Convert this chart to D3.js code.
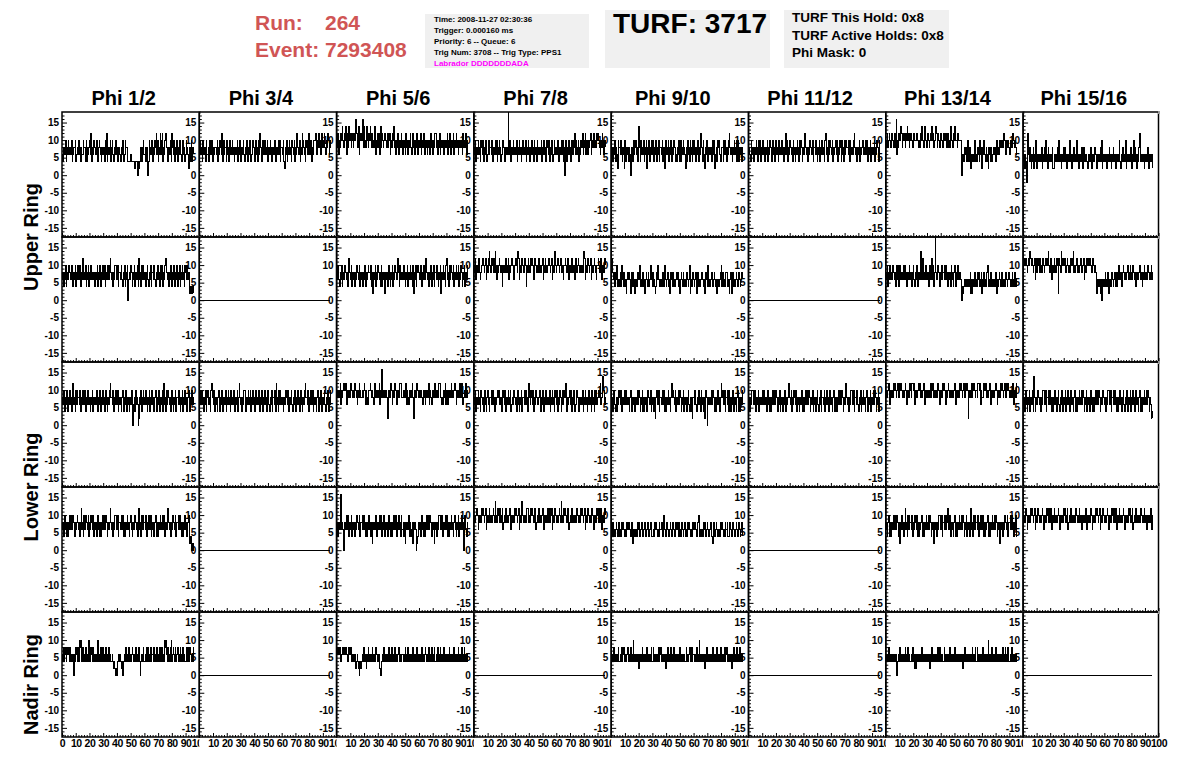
<!DOCTYPE html>
<html><head><meta charset="utf-8">
<script src="https://cdn.jsdelivr.net/npm/d3@7"></script>
<style>
body{margin:0;background:#fff}
svg{display:block}
text{font-family:"Liberation Sans",Arial,Helvetica,sans-serif;font-weight:bold}
</style>
</head><body>
<svg id="c" width="1196" height="772"></svg>
<script>
// ---------------- DATA ----------------
const phiLabels = ["Phi 1/2","Phi 3/4","Phi 5/6","Phi 7/8","Phi 9/10","Phi 11/12","Phi 13/14","Phi 15/16"];
const ringLabels = ["Upper Ring","Lower Ring","Nadir Ring"];
const yMajorTicks = [-15,-10,-5,0,5,10,15];
const xMajorTicks = [0,10,20,30,40,50,60,70,80,90,100];
const sampleStepNs = 0.5;
// each character is one sample: value = 2*digit - 2  ('0'=-2 ... '9'=16, 'a'=18)
const upperTop = [
 "435546354645 546345563454 645354465536 354564735465 546435654354 453647354563 564354645345 435465346554 333343333323 331323453564 453541364546 354657463547 647354675435 546375463546 354654356453 465424536354",
 "564536455364 453654635455 546354654736 455364536454 645354563546 354564354635 465345654364 536475436546 454635465354 546354564635 546325463546 453654635475 546354765436 564754653546 675465756475 567546576456",
 "567465768657 686475867567 576697658476 769586578657 687576586467 576485765676 657567465768 564657456576 465647564657 546756465745 657465574656 465647564657 756465746564 465657465746 567465756456 656475657465",
 "546354645365 463546534645 546354564635 465345654354 45a465354645 546354645346 454635465354 645364536454 546354645365 463546534645 546354564635 146354645365 465746546354 657465746546 567465765657 676546576465",
 "453546354265 546435426354 535414536465 645385364546 354625463546 463546354635 546354264546 354635465343 546436354654 253645364536 465354635475 536425465354 453646324536 564345536465 354675453546 546365354535",
 "454365453546 536465354645 354635465436 453564536454 645354746354 654536453546 536465354675 453546654635 546435463546 453674536465 546354564635 465364536465 546365454675 453546354564 546465354635 454635465436",
 "657567656765 675946576787 567657687657 676567667765 657687657866 576567686756 687576567665 767657576586 657687665766 661434354536 353524343634 354536452546 435432543534 454536454565 565676546565 456567656545",
 "342430374353 243524362434 343524353634 253434352243 443536342435 353424343634 243534363424 343525343432 434352434354 324343536243 434234353424 353432434363 243534362434 343524363534 243574343432 434352434342"
];
const upperBottom = [
 "453546354565 546435463546 456354745463 546354645453 354635463546 546354564675 453546654635 546435463546 145465354635 546374536465 453564354635 546435464536 465354675453 546435463546 354635465436 546452323232",
 "111111111111 111111111111 111111111111 111111111111 111111111111 111111111111 111111111111 111111111111 111111111111 111111111111 111111111111 111111111111 111111111111 111111111111 111111111111 111111111111",
 "546435463546 654536754635 453546654635 453546354565 546352546354 654536354525 453564354635 465457536454 546435463546 453625463565 546435464675 453546354635 546435462546 453674536465 546354654635 465354635464",
 "567465675456 676567465786 567657586465 676563656576 567465676546 676587465676 567636576567 676457656576 565674657656 676567465786 567656765646 676567465576 565476567656 656587456576 567465676546 676567456576",
 "575453546343 453645353424 545424535424 343546434353 424543534645 354323546434 343534643453 424543534345 453424543534 345434624345 434523534345 543424543634 345434543424 434563534345 543424523534 345434543454",
 "111111111111 111111111111 111111111111 111111111111 111111111111 111111111111 111111111111 111111111111 111111111111 111111111111 111111111111 111111111111 111111111111 111111111111 111111111111 111111111111",
 "546354645465 453564636454 546465345465 453564354635 546845745465 453564574635 a54565354645 546465354536 453564354645 541323434343 343524243534 354534352435 343565343534 434352434543 353434354345 434353435343",
 "567676567687 676567457567 576567656767 686567456576 576727658767 676567656576 678565676565 676567456576 676765676565 424343241434 354345243435 434543534645 453565454564 546545654535 454565453546 545465454645"
];
const lowerTop = [
 "546435463546 453674536465 546354654635 465453546354 546435463546 453564354675 546354654635 453564354635 543546214536 454125463564 546435463546 453564354635 546374536465 453564354635 546435463546 453564354645",
 "546465354635 654536754635 453564354635 546354645364 546435463575 453546653546 546354645364 546435463546 453564354635 546374536465 453546654635 546435463546 453564354675 546354654635 453564354635 546435463546",
 "565657465676 676465657765 657765465765 565676465456 676565476565 657465956565 652565676465 676465657765 565657465465 657525657765 565654565465 657465465657 565657765454 657465465657 565676465657 657545657565",
 "546354654365 453564356435 546465354565 654535654635 546456345465 453564354635 546465357546 546354654455 635465354645 546354645365 463546534645 657354564635 465345654354 546354645346 645364536464 565674568645",
 "453564353546 546354546465 453564354535 546465354635 354536654635 453525654635 546465353546 453575654635 546465354635 453564353525 546435464536 453525651454 546465353546 453575654635 546365354635 453564353546",
 "453546654635 546354546465 453564353546 546465354635 453546354575 546354654635 453546353546 546465354635 453564354635 546354645364 453564353546 546465354675 453546654635 546435463546 453564354635 546465354635",
 "565676465657 676567657676 565676465657 657767465567 676565676465 565657567656 565676465657 676465676565 565676465657 676567657676 265657567656 657767465567 676565676465 565676465657 676567657676 565657465657",
 "453564354635 546385354565 453546654635 546465353546 453564354635 546354645364 453564353546 546465354635 453564353546 546465354565 453546654635 546465353546 453564354635 546354645364 453564353546 546465354232"
];
const lowerBottom = [
 "453564353546 546465354565 453574536465 546354654635 453564353546 546465354575 453546654635 546465353546 453564354565 453574536465 546354654635 453564353546 546465354575 453546654635 546465353546 453564231212",
 "111111111111 111111111111 111111111111 111111111111 111111111111 111111111111 111111111111 111111111111 111111111111 111111111111 111111111111 111111111111 111111111111 111111111111 111111111111 111111111111",
 "453546945414 546465354635 453546654635 546465353546 453525454635 546465354635 453564353546 546354645364 453525454635 345254541235 453564353546 546465354525 453546654635 546465353546 453564354635 546451564354",
 "565676465657 676567456576 565676585657 657567456576 565676465657 676567456586 565657765657 676567456576 565676465657 657567456576 565676585657 676567456576 565657765657 676567456576 565676465657 657567456576",
 "453543454345 343545434354 545434523434 435453345434 453345434543 343545434354 453365434543 345434543454 453543454345 343545434354 545434563434 435454345434 453325434543 343545434354 453345434543 345434543453",
 "111111111111 111111111111 111111111111 111111111111 111111111111 111111111111 111111111111 111111111111 111111111111 111111111111 111111111111 111111111111 111111111111 111111111111 111111111111 111111111111",
 "453564353546 546465352546 453574536465 546354654635 354564353546 546465354525 453546654635 546465754635 453564353546 546465354635 453574536465 546354654635 354564353546 546465354525 453546654635 546465354635",
 "565676465657 676567456576 565676465657 657567456576 565676465657 676567456576 565657765657 565465657546 565676465657 676567456576 565676465657 657567456576 565676465657 676567456576 565657765657 565465657546"
];
const nadir = [
 "435354354453 534341435453 536563534353 435634543534 343563435353 534353435343 343232121343 432312343534 353434543435 534353134353 343535343534 435343534353 353436564353 435634543534 534353435343 353534543435",
 "111111111111 111111111111 111111111111 111111111111 111111111111 111111111111 111111111111 111111111111 111111111111 111111111111 111111111111 111111111111 111111111111 111111111111 111111111111 111111111111",
 "545454345454 545434545434 434323432132 343534324353 434353434543 343212343534 434353435343 353434543434 434353435343 343534343534 434353434543 435343534353 343534353434 534343435343 343534343534 435343534343",
 "111111111111 111111111111 111111111111 111111111111 111111111111 111111111111 111111111111 111111111111 111111111111 111111111111 111111111111 111111111111 111111111111 111111111111 111111111111 111111111111",
 "434353434353 343534543434 534353436343 343424343534 434353434353 353434343534 534343424353 343534353434 434353434343 353434543534 434353436343 343424353434 434353434353 343534343534 534343424353 343534353434",
 "111111111111 111111111111 111111111111 111111111111 111111111111 111111111111 111111111111 111111111111 111111111111 111111111111 111111111111 111111111111 111111111111 111111111111 111111111111 111111111111",
 "434353434343 434313435343 434353435343 343534242343 434353434343 343424353434 434353534343 353434343534 434353434343 343424353434 434343534353 353434343534 343436434353 434353434343 435343534353 343534343434",
 "111111111111 111111111111 111111111111 111111111111 111111111111 111111111111 111111111111 111111111111 111111111111 111111111111 111111111111 111111111111 111111111111 111111111111 111111111111 111111111111"
];
const rows = [upperTop, upperBottom, lowerTop, lowerBottom, nadir];

const infoLines = ["Time: 2008-11-27 02:30:36","Trigger: 0.000160 ms","Priority: 6 -- Queue: 6","Trig Num: 3708 -- Trig Type: PPS1"];
const labradorLine = "Labrador DDDDDDDADA";
const turfLines = ["TURF This Hold: 0x8","TURF Active Holds: 0x8","Phi Mask: 0"];

// ---------------- DRAW ----------------
const decode = s => Array.from(s.replace(/\s/g,"")).map((c,i)=>({t:i*sampleStepNs, v:2*parseInt(c,36)-2}));
const fmt = d => String(d);
const svg = d3.select("#c");
svg.append("rect").attr("width",1196).attr("height",772).attr("fill","#fff");

const frameLeft0 = 62, colW = 137.3, lastRight = 1158.5, top0 = 112, rowH = 125;
const colLeft = c => frameLeft0 + c*colW;
const colRight = c => c===7 ? lastRight : colLeft(c+1);
const yMinor = d3.range(-17,18,1);
const xMinor = d3.range(0,101,2);

const defs = svg.append("defs");

rows.forEach((row, r) => {
  row.forEach((str, c) => {
    const L = colLeft(c), R = colRight(c), T = top0 + r*rowH, B = T + rowH;
    const x = d3.scaleLinear().domain([0,100]).range([L,R]);
    const y = d3.scaleLinear().domain([-17.6,18]).range([B,T]);
    const g = svg.append("g");
    const data = decode(str);
    g.append("path").datum(data)
      .attr("fill","none").attr("stroke","#000").attr("stroke-width",1)
      .attr("shape-rendering","crispEdges")
      .attr("d", d3.line().x(d=>x(d.t)).y(d=>y(d.v)).curve(d3.curveStepAfter));
    // frame
    g.append("rect").attr("x",L).attr("y",T).attr("width",R-L).attr("height",B-T)
      .attr("fill","none").attr("stroke","#000").attr("stroke-width",1.5);
    // y axis
    const ya = g.append("g").attr("transform",`translate(${L},0)`)
      .call(d3.axisLeft(y).tickValues(yMajorTicks).tickSizeInner(-5).tickSizeOuter(0).tickPadding(3).tickFormat(fmt));
    ya.select(".domain").remove();
    ya.selectAll("text").attr("font-size",10).attr("font-family",null).attr("fill","#000");
    ya.selectAll("line").attr("stroke","#000");
    const ym = g.append("g").attr("transform",`translate(${L},0)`)
      .call(d3.axisLeft(y).tickValues(yMinor.filter(v=>v%5!==0)).tickSizeInner(-2.5).tickSizeOuter(0).tickFormat(""));
    ym.select(".domain").remove();
    ym.selectAll("line").attr("stroke","#000");
    // x axis
    const xm = g.append("g").attr("transform",`translate(0,${B})`)
      .call(d3.axisBottom(x).tickValues(xMinor.filter(v=>v%10!==0)).tickSizeInner(-2).tickSizeOuter(0).tickFormat(""));
    xm.select(".domain").remove();
    xm.selectAll("line").attr("stroke","#000");
    const isBottom = r === rows.length-1;
    const xt = xMajorTicks.filter(v => c===0 || v!==0);
    const xa = g.append("g").attr("transform",`translate(0,${B})`)
      .call(d3.axisBottom(x).tickValues(xt).tickSizeInner(-4).tickSizeOuter(0).tickPadding(3)
        .tickFormat(isBottom ? fmt : ""));
    xa.select(".domain").remove();
    xa.selectAll("line").attr("stroke","#000");
    xa.selectAll("text").attr("font-size",10.5).attr("font-family",null).attr("fill","#000").attr("letter-spacing",-0.5);
    if (isBottom && c < 7) {
      const id = "clipx"+c;
      defs.append("clipPath").attr("id",id).append("rect")
        .attr("x",L-20).attr("y",-10).attr("width",R-L+20).attr("height",40);
      xa.attr("clip-path",`url(#${id})`);
    }
    // small corner marker
    g.append("rect").attr("x",R-0.5).attr("y",T-1).attr("width",2).attr("height",3).attr("fill","#999");
  });
});

// column titles
phiLabels.forEach((t,c) => {
  svg.append("text").attr("x",(colLeft(c)+colRight(c))/2-7).attr("y",105)
    .attr("text-anchor","middle").attr("font-size",20).attr("fill","#000").text(t);
});
// ring labels
const ringCenters = [top0+rowH, top0+3*rowH, top0+4.5*rowH+10];
ringLabels.forEach((t,i) => {
  svg.append("text").attr("transform",`translate(31,${ringCenters[i]}) rotate(-90)`)
    .attr("text-anchor","middle").attr("dominant-baseline","central")
    .attr("font-size",20).attr("fill","#000").text(t);
});

// header
const red = "#d05555";
svg.append("text").attr("x",255).attr("y",30).attr("font-size",21).attr("fill",red).text("Run:");
svg.append("text").attr("x",325).attr("y",30).attr("font-size",21).attr("fill",red).text("264");
svg.append("text").attr("x",255).attr("y",57).attr("font-size",21).attr("fill",red).text("Event: 7293408");

svg.append("rect").attr("x",425).attr("y",14).attr("width",164).attr("height",54).attr("fill","#f0f0f0");
infoLines.forEach((t,i)=>{
  svg.append("text").attr("x",434).attr("y",21.5+i*11).attr("font-size",8).attr("fill","#000").text(t);
});
svg.append("text").attr("x",434).attr("y",65.5).attr("font-size",8).attr("fill","#ff00ff").text(labradorLine);

svg.append("rect").attr("x",605).attr("y",10).attr("width",165).attr("height",58).attr("fill","#f0f0f0");
svg.append("text").attr("x",613).attr("y",33).attr("font-size",28).attr("fill","#000").text("TURF: 3717");

svg.append("rect").attr("x",784).attr("y",10).attr("width",165).attr("height",58).attr("fill","#f0f0f0");
turfLines.forEach((t,i)=>{
  svg.append("text").attr("x",792).attr("y",22+i*17.5).attr("font-size",13.5).attr("fill","#000").text(t);
});
</script>
</body></html>
